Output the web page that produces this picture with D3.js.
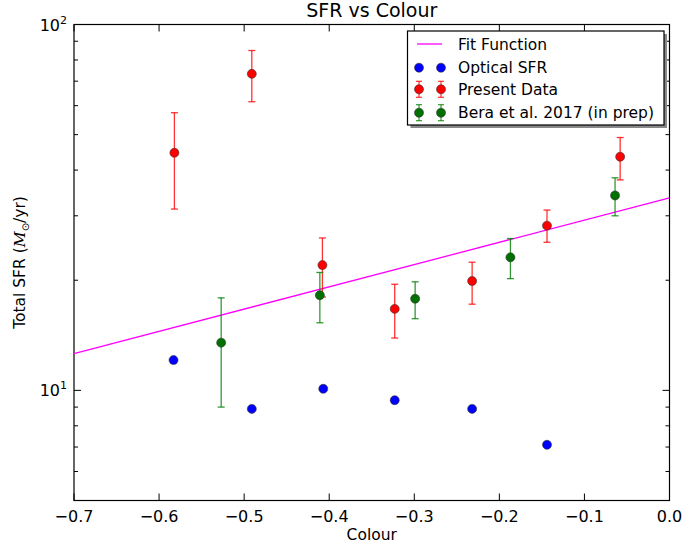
<!DOCTYPE html>
<html>
<head>
<meta charset="utf-8">
<script src="https://cdn.jsdelivr.net/npm/d3@7"></script>
<style>
  body { margin: 0; background: #fff; }
  svg { font-family: "DejaVu Sans", sans-serif; }
</style>
</head>
<body>
<svg width="683" height="549"></svg>
<script>
// colour index (x) and total SFR (y)
var opticalX = [-0.583, -0.491, -0.407, -0.323, -0.232, -0.144];
var opticalY = [12.1, 8.9, 10.1, 9.4, 8.9, 7.1];

var presentX = [-0.582, -0.491, -0.408, -0.323, -0.232, -0.144, -0.058];
var presentY = [44.6, 73.3, 22.0, 16.7, 19.9, 28.2, 43.5];
var presentLo = [31.3, 61.5, 18.0, 13.9, 17.2, 25.4, 37.6];
var presentHi = [57.4, 84.9, 26.1, 19.5, 22.4, 31.1, 49.1];

var beraX = [-0.527, -0.411, -0.299, -0.187, -0.064];
var beraY = [13.5, 18.2, 17.8, 23.1, 34.1];
var beraLo = [9.0, 15.3, 15.7, 20.2, 30.0];
var beraHi = [17.9, 21.0, 19.8, 26.0, 38.1];

var fitX = [-0.7, 0.0];
var fitY = [12.6, 33.6];

var xTicks = [-0.7, -0.6, -0.5, -0.4, -0.3, -0.2, -0.1, 0.0];
var legendNames = ["Fit Function", "Optical SFR", "Present Data", "Bera et al. 2017 (in prep)"];

var pLeft = 74, pTop = 24.5, pRight = 669.5, pBottom = 500.5;

var svg = d3.select("svg");

var x = d3.scaleLinear().domain([-0.7, 0.0]).range([pLeft, pRight]);
var y = d3.scaleLog().domain([5, 100]).range([pBottom, pTop]);

// frame
svg.append("rect")
    .attr("x", pLeft).attr("y", pTop)
    .attr("width", pRight - pLeft).attr("height", pBottom - pTop)
    .attr("fill", "none").attr("stroke", "#000").attr("stroke-width", 1.2);

// ticks pointing inwards on all sides
var minor = [];
for (var d = 5; d < 100; d += (d < 10 ? 1 : 10)) {
    if (d != 10) minor.push(d);
}

xTicks.forEach(function(t) {
    svg.append("line").attr("x1", x(t)).attr("x2", x(t)).attr("y1", pBottom).attr("y2", pBottom - 7).attr("stroke", "#000");
    svg.append("line").attr("x1", x(t)).attr("x2", x(t)).attr("y1", pTop).attr("y2", pTop + 7).attr("stroke", "#000");
    svg.append("text")
        .attr("x", x(t)).attr("y", pBottom + 21)
        .attr("text-anchor", "middle")
        .attr("font-size", "16px")
        .text(t === 0 ? "0.0" : d3.format(".1f")(t).replace("-", "\u2212"));
});

[10, 100].forEach(function(t) {
    svg.append("line").attr("x1", pLeft).attr("x2", pLeft + 7).attr("y1", y(t)).attr("y2", y(t)).attr("stroke", "#000");
    svg.append("line").attr("x1", pRight).attr("x2", pRight - 7).attr("y1", y(t)).attr("y2", y(t)).attr("stroke", "#000");
    var lab = svg.append("text")
        .attr("x", pLeft - 7).attr("y", y(t) + 6)
        .attr("text-anchor", "end")
        .attr("font-size", "16px");
    lab.append("tspan").text("10");
    lab.append("tspan").attr("dy", -7).attr("font-size", "11px").text(t == 10 ? "1" : "2");
});

minor.forEach(function(t) {
    svg.append("line").attr("x1", pLeft).attr("x2", pLeft + 4).attr("y1", y(t)).attr("y2", y(t)).attr("stroke", "#000");
    svg.append("line").attr("x1", pRight).attr("x2", pRight - 4).attr("y1", y(t)).attr("y2", y(t)).attr("stroke", "#000");
});

// labels
svg.append("text")
    .attr("x", (pLeft + pRight) / 2).attr("y", 17)
    .attr("text-anchor", "middle").attr("font-size", "19px")
    .text("SFR vs Colour");

svg.append("text")
    .attr("x", (pLeft + pRight) / 2).attr("y", 540)
    .attr("text-anchor", "middle").attr("font-size", "15.5px")
    .text("Colour");

var yl = svg.append("text")
    .attr("transform", "translate(25," + ((pTop + pBottom) / 2) + ") rotate(-90)")
    .attr("text-anchor", "middle").attr("font-size", "15.5px");
yl.append("tspan").text("Total SFR (");
yl.append("tspan").attr("font-style", "italic").attr("font-family", "DejaVu Serif").text("M");
yl.append("tspan").attr("dy", 4).attr("font-size", "10px").text("\u2299");
yl.append("tspan").attr("dy", -4).text("/yr)");

var plot = svg.append("g");

// fit line
plot.append("line")
    .attr("x1", x(fitX[0])).attr("y1", y(fitY[0]))
    .attr("x2", x(fitX[1])).attr("y2", y(fitY[1]))
    .attr("stroke", "#ff00ff").attr("stroke-width", 1.3);

function errorBars(xs, lo, hi, colour) {
    var g = plot.append("g").attr("stroke", colour).attr("stroke-width", 1.3).attr("stroke-opacity", 0.8);
    xs.forEach(function(v, i) {
        g.append("line").attr("x1", x(v)).attr("x2", x(v)).attr("y1", y(lo[i])).attr("y2", y(hi[i]));
        g.append("line").attr("x1", x(v) - 3.5).attr("x2", x(v) + 3.5).attr("y1", y(lo[i])).attr("y2", y(lo[i]));
        g.append("line").attr("x1", x(v) - 3.5).attr("x2", x(v) + 3.5).attr("y1", y(hi[i])).attr("y2", y(hi[i]));
    });
}

function dots(xs, ys, colour) {
    plot.append("g").selectAll("circle")
        .data(xs)
        .enter()
        .append("circle")
        .attr("cx", function(d) { return x(d); })
        .attr("cy", function(d, i) { return y(ys[i]); })
        .attr("r", 4.5)
        .attr("fill", colour)
        .attr("stroke", "#333").attr("stroke-width", 0.6);
}

dots(opticalX, opticalY, "#0000ff");
errorBars(presentX, presentLo, presentHi, "#ff0000");
dots(presentX, presentY, "#ff0000");
errorBars(beraX, beraLo, beraHi, "#008000");
dots(beraX, beraY, "#007000");

// legend
var lg = svg.append("g");
lg.append("rect").attr("x", 410.5).attr("y", 34).attr("width", 256.5).attr("height", 94).attr("fill", "#888");
lg.append("rect").attr("x", 407.5).attr("y", 31).attr("width", 256.5).attr("height", 94)
    .attr("fill", "#fff").attr("stroke", "#000").attr("stroke-width", 1.2);

var rowY = [44, 67.7, 89.3, 112.7];
var legColours = ["#ff00ff", "#0000ff", "#ff0000", "#007000"];
legendNames.forEach(function(name, i) {
    var cy = rowY[i];
    if (i == 0) {
        lg.append("line").attr("x1", 417).attr("x2", 442).attr("y1", cy).attr("y2", cy)
            .attr("stroke", legColours[i]).attr("stroke-width", 1.3);
    } else {
        [419, 441].forEach(function(cx) {
            if (i > 1) {
                var ec = i == 2 ? "#ff0000" : "#008000";
                var e = lg.append("g").attr("stroke", ec).attr("stroke-opacity", 0.8).attr("stroke-width", 1.2);
                e.append("line").attr("x1", cx).attr("x2", cx).attr("y1", cy - 8).attr("y2", cy + 8);
                e.append("line").attr("x1", cx - 3).attr("x2", cx + 3).attr("y1", cy - 8).attr("y2", cy - 8);
                e.append("line").attr("x1", cx - 3).attr("x2", cx + 3).attr("y1", cy + 8).attr("y2", cy + 8);
            }
            lg.append("circle").attr("cx", cx).attr("cy", cy).attr("r", 4.5)
                .attr("fill", legColours[i]).attr("stroke", "#333").attr("stroke-width", 0.6);
        });
    }
    lg.append("text").attr("x", 458).attr("y", cy + 5.5).attr("font-size", "15.5px").text(name);
});
</script>
</body>
</html>
